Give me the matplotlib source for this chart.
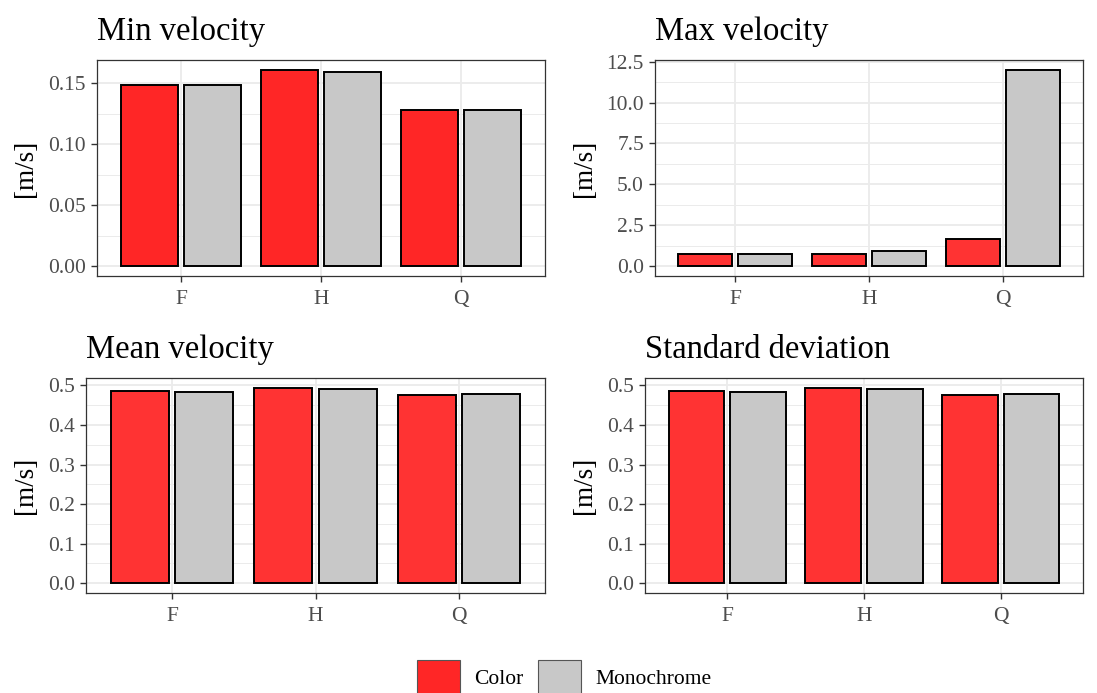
import matplotlib
matplotlib.use("Agg")
import matplotlib.pyplot as plt
import numpy as np
from matplotlib.patches import Patch
from matplotlib.ticker import MultipleLocator

plt.rcParams['font.family'] = ['Liberation Serif', 'DejaVu Serif']

categories = ["F", "H", "Q"]
groups = ["Color", "Monochrome"]

min_color = [0.1487, 0.1610, 0.1280]
min_mono = [0.1487, 0.1590, 0.1280]
max_color = [0.77, 0.74, 1.69]
max_mono = [0.77, 0.91, 12.00]
mean_color = [0.4866, 0.4940, 0.4755]
mean_mono = [0.4830, 0.4918, 0.4770]
sd_color = [0.4866, 0.4940, 0.4755]
sd_mono = [0.4830, 0.4918, 0.4770]

titles = ["Min velocity", "Max velocity", "Mean velocity", "Standard deviation"]
ylabel = "[m/s]"

W, H = 1097, 693
fig = plt.figure(figsize=(W / 100, H / 100), dpi=100)

# (left, top, right, bottom) in pixels
boxes = [(97, 60, 545, 276), (655, 60, 1083, 276),
         (86, 378, 545, 593), (645, 378, 1083, 593)]
series = [(min_color, min_mono, 0.05, 0.025, "%.2f", "#ff2626"),
          (max_color, max_mono, 2.5, 1.25, "%.1f", "#ff3333"),
          (mean_color, mean_mono, 0.1, 0.05, "%.1f", "#ff3333"),
          (sd_color, sd_mono, 0.1, 0.05, "%.1f", "#ff3333")]
gray = "#c8c8c8"
grid_c = "#ebebeb"

x = np.arange(1, len(categories) + 1)
for (l, t, r, b), (cv, mv, maj, mnr, fmt, red), title in zip(boxes, series, titles):
    ax = fig.add_axes([l / W, 1 - b / H, (r - l) / W, (b - t) / H])
    ax.bar(x - 0.225, cv, width=0.405, color=red, edgecolor="black", linewidth=1.4, zorder=3)
    ax.bar(x + 0.225, mv, width=0.405, color=gray, edgecolor="black", linewidth=1.4, zorder=3)
    top = max(max(cv), max(mv))
    ax.set_ylim(-0.05 * top, 1.05 * top)
    ax.set_xlim(0.4, 3.6)
    ax.yaxis.set_major_locator(MultipleLocator(maj))
    ax.yaxis.set_minor_locator(MultipleLocator(mnr))
    ax.yaxis.set_major_formatter(matplotlib.ticker.FormatStrFormatter(fmt))
    ax.set_xticks(x)
    ax.set_xticklabels(categories)
    ax.set_xticks([], minor=True)
    ax.grid(True, which="major", color=grid_c, linewidth=1.3, zorder=0)
    ax.grid(True, which="minor", axis="y", color=grid_c, linewidth=0.7, zorder=0)
    ax.set_axisbelow(True)
    ax.tick_params(axis="both", which="major", labelsize=15.5, labelcolor="#4d4d4d",
                   color="#333333", length=4, width=1, pad=4)
    ax.tick_params(axis="x", which="major", pad=6)
    ax.tick_params(axis="y", which="minor", length=0)
    for s in ax.spines.values():
        s.set_color("#333333")
        s.set_linewidth(0.9)
    ax.set_ylabel(ylabel, fontsize=19.5, labelpad=7)
    fig.text(l / W, 1 - (t - 20) / H, title, fontsize=23.5, ha="left", va="baseline")

handles = [Patch(facecolor="#ff2626", edgecolor="#555555", linewidth=0.8),
           Patch(facecolor=gray, edgecolor="#555555", linewidth=0.8)]
fig.legend(handles, groups, loc="center", bbox_to_anchor=(564 / W, 1 - 677 / H),
           ncol=2, frameon=False, fontsize=15.5, handlelength=2.0, handleheight=2.0,
           handletextpad=0.65, columnspacing=0.7, borderpad=0)

fig.savefig("out.png", dpi=100)
